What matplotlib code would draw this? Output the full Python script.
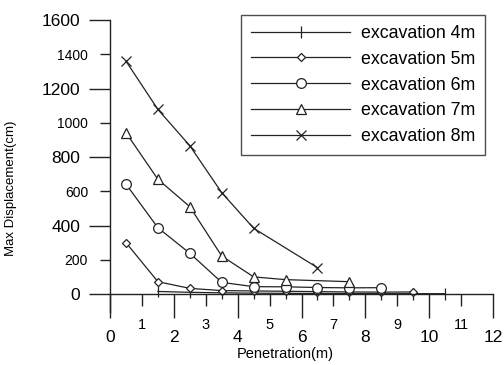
import matplotlib
matplotlib.use("Agg")
import matplotlib.pyplot as plt
from matplotlib.ticker import MultipleLocator, FixedLocator, FormatStrFormatter

plt.rcParams["font.family"] = ["Liberation Sans", "DejaVu Sans"]

# penetration depth (m) and max displacement (cm) per excavation depth
x_4m = [1.5, 2.5, 3.5, 4.5, 5.5, 6.5, 7.5, 8.5, 9.5, 10.5]
y_4m = [15, 10, 7, 5, 4, 3, 3, 2, 2, 2]
x_5m = [0.5, 1.5, 2.5, 3.5, 4.5, 5.5, 6.5, 7.5, 8.5, 9.5]
y_5m = [300, 72, 33, 20, 18, 16, 14, 12, 11, 12]
x_6m = [0.5, 1.5, 2.5, 3.5, 4.5, 5.5, 6.5, 7.5, 8.5]
y_6m = [642, 387, 238, 68, 43, 42, 38, 36, 37]
x_7m = [0.5, 1.5, 2.5, 3.5, 4.5, 5.5, 7.5]
y_7m = [942, 670, 510, 222, 100, 84, 72]
x_8m = [0.5, 1.5, 2.5, 3.5, 4.5, 6.5]
y_8m = [1360, 1078, 866, 592, 384, 154]

labels = ["excavation 4m", "excavation 5m", "excavation 6m", "excavation 7m", "excavation 8m"]

W, H = 504, 365
fig = plt.figure(figsize=(W / 100, H / 100), dpi=100)
ax = fig.add_axes([110 / W, 1 - 312 / H, (493 - 110) / W, (312 - 20) / H])

ink = "#222222"
common = dict(color=ink, lw=0.9, mec=ink, mfc="white", mew=0.9)
ax.plot(x_4m, y_4m, marker="|", ms=9, label=labels[0], **common)
ax.plot(x_5m, y_5m, marker="D", ms=4.5, label=labels[1], **common)
ax.plot(x_6m, y_6m, marker="o", ms=7, label=labels[2], **common)
ax.plot(x_7m, y_7m, marker="^", ms=6.5, label=labels[3], **common)
ax.plot(x_8m, y_8m, marker="x", ms=7.5, label=labels[4], **common)

ax.set_xlim(0, 12)
ax.set_ylim(-105, 1600)

for s in ("top", "right"):
    ax.spines[s].set_visible(False)
ax.spines["bottom"].set_position(("data", 0))
ax.spines["left"].set_bounds(-105, 1600)
for s in ("bottom", "left"):
    ax.spines[s].set_color(ink)
    ax.spines[s].set_linewidth(1.0)

ax.xaxis.set_major_locator(MultipleLocator(2))
ax.xaxis.set_minor_locator(FixedLocator([1, 3, 5, 7, 9, 11]))
ax.xaxis.set_minor_formatter(FormatStrFormatter("%d"))
ax.yaxis.set_major_locator(MultipleLocator(400))
ax.yaxis.set_minor_locator(FixedLocator([200, 600, 1000, 1400]))
ax.yaxis.set_minor_formatter(FormatStrFormatter("%d"))

ax.tick_params(axis="x", which="major", direction="out", length=17, width=1.0,
               color=ink, labelsize=12.5, pad=9)
ax.tick_params(axis="x", which="minor", direction="out", length=8.6, width=1.0,
               color=ink, labelsize=10.5, pad=8.6)
ax.tick_params(axis="y", which="major", direction="out", length=15, width=1.0,
               color=ink, labelsize=12.5, pad=6.5)
ax.tick_params(axis="y", which="minor", direction="out", length=7.2, width=1.0,
               color=ink, labelsize=10, pad=8.6)

ax.set_xlabel("Penetration(m)", fontsize=10.5)
ax.xaxis.set_label_coords((285 - 110) / (493 - 110), -(347 - 312) / (312 - 20))
ax.set_ylabel("Max Displacement(cm)", fontsize=9.5)
ax.yaxis.set_label_coords(-(110 - 17) / (493 - 110), (312 - 188) / (312 - 20))

leg = ax.legend(loc="upper left", bbox_to_anchor=(241 / W, 1 - 15 / H),
                bbox_transform=fig.transFigure, fontsize=12.8, frameon=True,
                fancybox=False, borderaxespad=0, borderpad=0.55,
                handlelength=5.6, handletextpad=0.62, labelspacing=0.5)
leg.get_frame().set_edgecolor(ink)
leg.get_frame().set_linewidth(1.0)

fig.savefig("out.png", dpi=100, facecolor="white")
